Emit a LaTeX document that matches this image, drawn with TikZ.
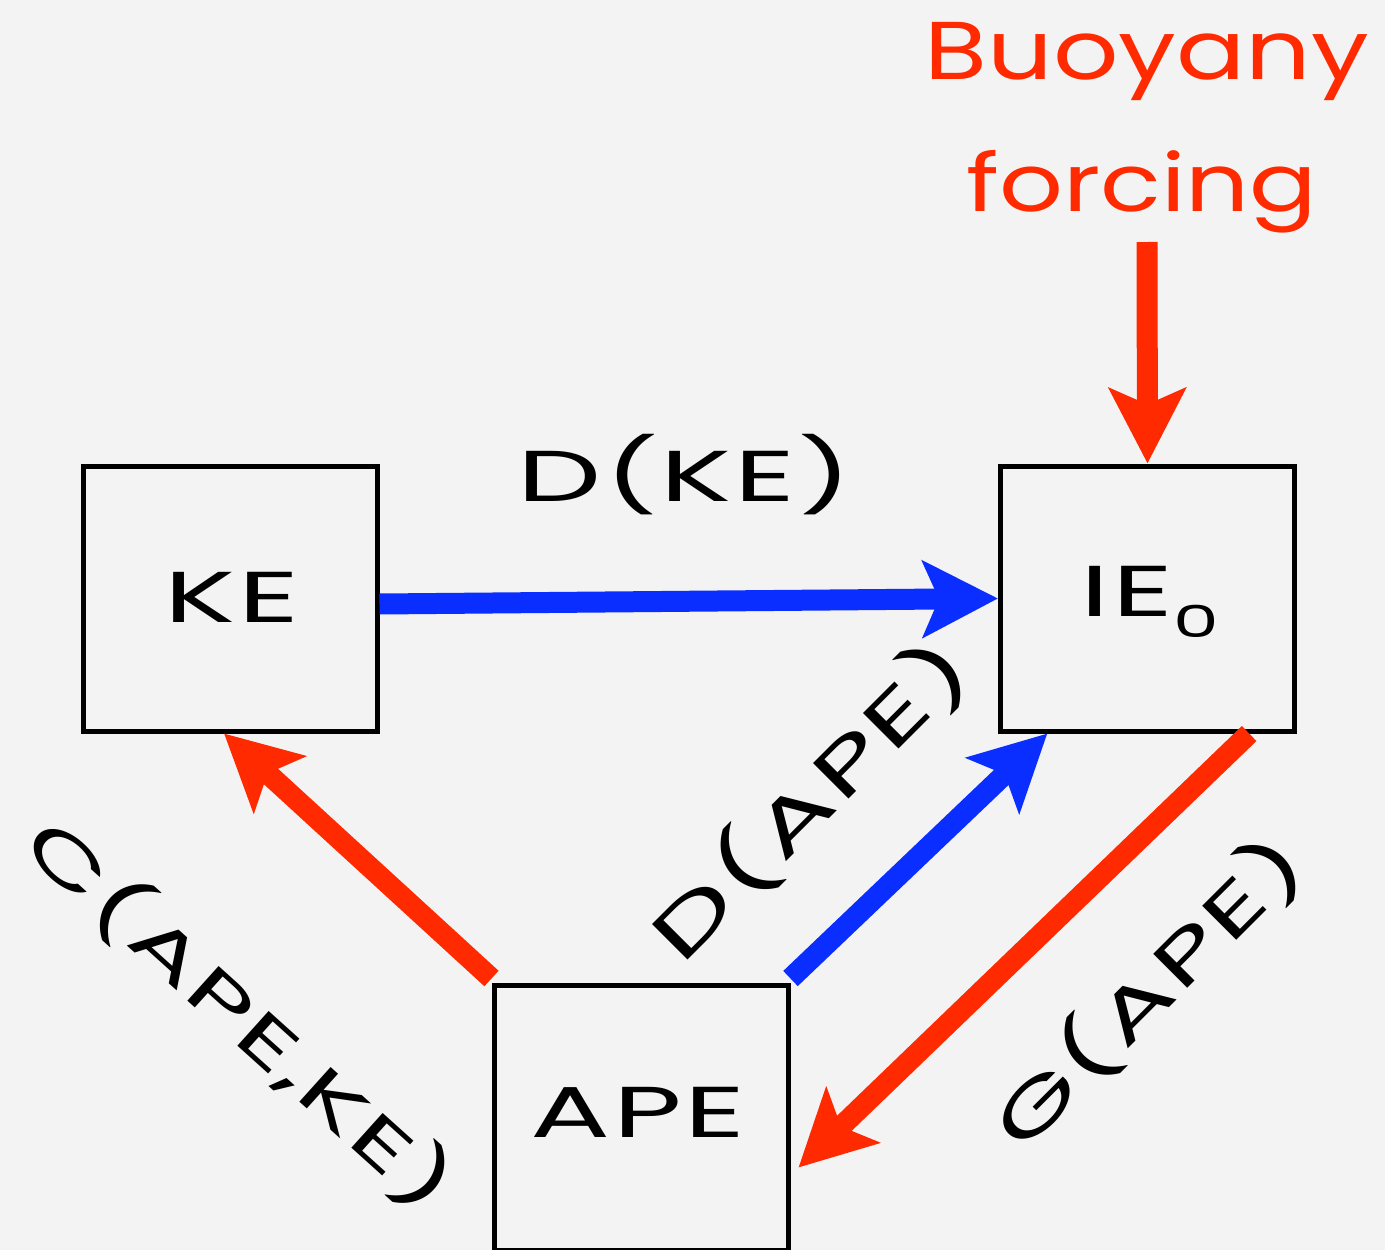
\documentclass[tikz,border=0pt]{standalone}
\usepackage{fontspec}
\setmainfont{Poppins}[FakeStretch=1.25]
\newfontfamily\widefont{Poppins}[FakeStretch=1.65,LetterSpace=4]
\usetikzlibrary{arrows.meta,calc}
\definecolor{bg}{HTML}{F3F3F3}
\definecolor{fred}{HTML}{FF2A00}
\definecolor{fblue}{HTML}{0A2EFF}
\tikzset{
  box/.style={draw=black,line width=5pt,minimum width=294pt,minimum height=265pt,inner sep=0pt},
  lbl/.style={font=\widefont\fontsize{72}{80}\selectfont,inner sep=0pt},
  fat/.style={line width=21pt,-{Stealth[length=75pt,width=76pt,inset=16pt]}},
  redarr/.style={fat,draw=fred},
  bluearr/.style={fat,draw=fblue},
}
\begin{document}
\begin{tikzpicture}[x=1pt,y=-1pt]
\fill[bg] (0,0) rectangle (1385,1250);
\useasboundingbox (0,0) rectangle (1385,1250);
\clip (0,0) rectangle (1385,1250);
\node[box] (KE) at (230,598.5) {};
\node[box] (IE) at (1147.5,598.5) {};
\node[box] (APE) at (641,1117.5) {};
\node[lbl] (tKE) at (232,597) {KE};
\node[lbl] (tIE) at (1150,602) {IE\raisebox{-0.3em}{\fontsize{44}{48}\selectfont 0}};
\node[lbl] (tAPE) at (638,1112) {APE};
\node[lbl] (dke) at (685,475) {D(KE)};
\node[lbl,rotate=45] (dape) at (810,800) {D(APE)};
\node[lbl,rotate=-42,font=\widefont\fontsize{67}{74}\selectfont] (cape) at (240,1014) {C(APE,KE)};
\node[lbl,rotate=45,font=\widefont\fontsize{69}{76}\selectfont] (gape) at (1148,992) {G(APE)};
\node[lbl,text=fred,font=\fontsize{82}{88}\selectfont] (buoy) at (1147,62) {Buoyany};
\node[lbl,text=fred,font=\fontsize{80}{88}\selectfont] (forc) at (1142,192) {forcing};
\coordinate (bf) at (1147,242);
\draw[bluearr] ([yshift=-5.5pt]KE.east) -- (IE.west);
\draw[redarr] ([shift={(0,-4)}]APE.north west) -- ($(KE.south west)!0.48!(KE.south east)$);
\draw[bluearr] ([shift={(0,-4)}]APE.north east) -- ($(IE.south west)!0.165!(IE.south east)$);
\draw[redarr] ($(IE.south west)!0.84!(IE.south east)$) -- ([shift={(8,50)}]APE.east);
\draw[redarr] (bf) -- (IE.north);
\end{tikzpicture}
\end{document}
